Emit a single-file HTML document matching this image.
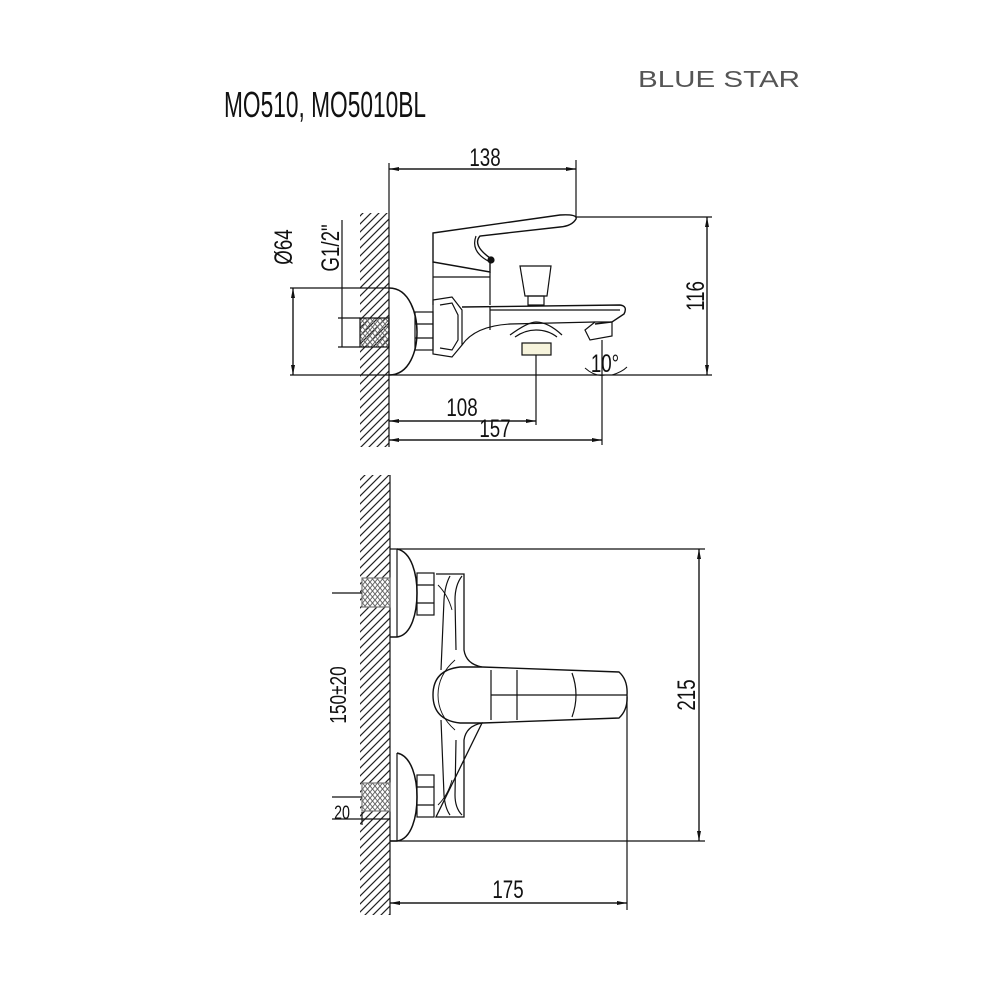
<!DOCTYPE html>
<html><head><meta charset="utf-8"><style>
html,body{margin:0;padding:0;background:#fff;}
svg{display:block;}
text{font-family:"Liberation Sans",sans-serif;fill:#111;}
</style></head><body>
<svg width="1000" height="1000" viewBox="0 0 1000 1000" xmlns="http://www.w3.org/2000/svg">
<defs>
<pattern id="h" patternUnits="userSpaceOnUse" width="8" height="8">
<path d="M-1,9 L9,-1 M-3,3 L3,-3 M5,11 L11,5" stroke="#222" stroke-width="1.2"/>
</pattern>
<pattern id="t" patternUnits="userSpaceOnUse" width="5" height="6">
<path d="M0,0 L5,6 M5,0 L0,6" stroke="#666" stroke-width="1"/>
</pattern>
<marker id="a" markerWidth="10" markerHeight="6" refX="10" refY="3" orient="auto" markerUnits="userSpaceOnUse">
<path d="M0,1 L10,3 L0,5z" fill="#111"/></marker>
</defs>
<rect width="1000" height="1000" fill="#fff"/>
<text x="224" y="117" font-size="36" textLength="202" lengthAdjust="spacingAndGlyphs">MO510, MO5010BL</text>
<text x="638" y="87" font-size="23" textLength="162" lengthAdjust="spacingAndGlyphs" style="fill:#555">BLUE STAR</text>

<g fill="none" stroke="#111" stroke-width="1.2">
<rect x="360" y="213" width="29" height="234" fill="url(#h)" stroke="none"/>
<line x1="389" y1="163" x2="389" y2="447"/>
<line x1="389" y1="169" x2="576" y2="169" marker-end="url(#a)"/>
<line x1="576" y1="169" x2="389" y2="169" marker-end="url(#a)"/>
<line x1="576" y1="160" x2="576" y2="217"/>
<line x1="576" y1="217" x2="712" y2="217"/>
<line x1="290" y1="375" x2="712" y2="375"/>
<line x1="707" y1="217" x2="707" y2="375" marker-end="url(#a)"/>
<line x1="707" y1="375" x2="707" y2="217" marker-end="url(#a)"/>
<line x1="290" y1="288" x2="389" y2="288"/>
<line x1="293" y1="288" x2="293" y2="375" marker-end="url(#a)"/>
<line x1="293" y1="375" x2="293" y2="288" marker-end="url(#a)"/>
<line x1="342" y1="220" x2="342" y2="347"/>
<line x1="338" y1="318" x2="360" y2="318"/>
<line x1="338" y1="347" x2="360" y2="347"/>
<rect x="360" y="318" width="29" height="29" fill="url(#t)"/>
<path d="M389,288 C410,288 417,315 417,332 C417,350 410,375 389,375" stroke-width="1.5"/>
<rect x="415" y="312" width="18" height="38"/>
<line x1="415" y1="324" x2="433" y2="324"/><line x1="415" y1="338" x2="433" y2="338"/>
<path d="M433,300 L452,297 L462,310 L462,345 L452,357 L433,354 Z"/>
<path d="M440,305 L452,303 L458,315 L458,340 L452,350 L440,348"/>
<path d="M433,233 L560,215 Q578,214 576,219 Q572,226 560,227 L480,236 Q472,245 490,258 L490,272 L433,262 Z" stroke-width="1.4"/>
<path d="M476,236 Q470,252 490,262"/>
<circle cx="491" cy="260" r="3" fill="#111"/>
<path d="M433,262 L433,305 M490,272 L490,305 M433,277 L490,277"/>
<path d="M462,307 L620,305 Q628,306 624,314 L612,322 L595,324" stroke-width="1.4"/>
<line x1="490" y1="310" x2="620" y2="310"/>
<path d="M462,345 Q475,326 510,324 L595,322"/>
<line x1="490" y1="307" x2="490" y2="330"/>
<path d="M520,266 L551,266 L547,296 L525,296 Z"/>
<rect x="528" y="296" width="16" height="9"/>
<path d="M510,335 Q528,322 536,322 Q548,322 562,335"/>
<path d="M515,337 Q525,330 536,330 Q548,330 557,337"/>
<rect x="522" y="343" width="29" height="12" fill="#f7f4dc"/>
<path d="M585,330 L595,322 L612,322 L612,336 L590,340 Z"/>
<line x1="536" y1="355" x2="536" y2="425"/>
<line x1="602" y1="340" x2="602" y2="445"/>
<line x1="389" y1="421" x2="536" y2="421" marker-end="url(#a)"/>
<line x1="536" y1="421" x2="389" y2="421" marker-end="url(#a)"/>
<line x1="389" y1="440" x2="602" y2="440" marker-end="url(#a)"/>
<line x1="602" y1="440" x2="389" y2="440" marker-end="url(#a)"/>
<path d="M585,368 Q595,377 605,375 M612,375 Q622,372 627,367" stroke-width="1"/>

<rect x="360" y="475" width="30" height="440" fill="url(#h)" stroke="none"/>
<line x1="390" y1="475" x2="390" y2="915"/>
<line x1="390" y1="549" x2="705" y2="549"/>
<line x1="390" y1="841" x2="705" y2="841"/>
<line x1="699" y1="549" x2="699" y2="841" marker-end="url(#a)"/>
<line x1="699" y1="841" x2="699" y2="549" marker-end="url(#a)"/>
<path d="M397,549 C412,552 417,575 417,593 C417,612 412,635 397,637 L390,637" stroke-width="1.5"/>
<line x1="397" y1="549" x2="397" y2="637"/>
<path d="M397,753 C412,756 417,779 417,797 C417,816 412,839 397,841 L390,841" stroke-width="1.5"/>
<line x1="397" y1="753" x2="397" y2="841"/>
<rect x="362" y="578" width="28" height="29" fill="#fff" stroke="none"/>
<rect x="362" y="783" width="28" height="28" fill="#fff" stroke="none"/>
<rect x="362" y="578" width="28" height="29" fill="url(#t)" stroke="#777"/>
<rect x="362" y="783" width="28" height="28" fill="url(#t)" stroke="#777"/>
<line x1="332" y1="593" x2="362" y2="593"/>
<line x1="332" y1="797" x2="362" y2="797"/>
<line x1="332" y1="819" x2="390" y2="819"/>
<line x1="362" y1="812" x2="362" y2="825"/>
<rect x="417" y="573" width="17" height="42"/><line x1="417" y1="585" x2="434" y2="585"/><line x1="417" y1="603" x2="434" y2="603"/>
<rect x="417" y="775" width="17" height="42"/><line x1="417" y1="787" x2="434" y2="787"/><line x1="417" y1="805" x2="434" y2="805"/>
<path d="M436,574 L464,574 L464,650 Q466,664 482,667 M482,723 Q466,726 464,740 L464,817 L436,817 Z" stroke-width="1.3"/>
<path d="M450,576 Q445,585 444,600 L441,670 M441,720 L444,795 Q445,808 450,815"/>
<path d="M462,576 Q455,585 455,600 L456,650 M456,740 L455,795 Q455,808 462,815"/>
<path d="M438,585 Q448,595 452,610 M438,805 Q448,795 452,780" stroke-width="0.9"/>
<path d="M482,667 L619,672 Q628,680 627,695 Q628,710 619,718 L482,723 L460,723 Q433,720 433,695 Q433,670 460,667 Z" stroke-width="1.4"/>
<line x1="491" y1="670" x2="491" y2="720"/>
<line x1="517" y1="670" x2="517" y2="720"/>
<line x1="491" y1="695" x2="627" y2="695"/>
<path d="M572,673 Q580,695 572,717"/>
<path d="M455,660 Q438,675 438,695 Q438,715 455,730" stroke-width="0.9"/>
<line x1="627" y1="697" x2="627" y2="910"/>
<line x1="390" y1="903" x2="627" y2="903" marker-end="url(#a)"/>
<line x1="627" y1="903" x2="390" y2="903" marker-end="url(#a)"/>
</g>

<g font-size="25">
<text x="485" y="166" text-anchor="middle" transform="translate(485,0) scale(0.75,1) translate(-485,0)">138</text>
<text x="462" y="416" text-anchor="middle" transform="translate(462,0) scale(0.75,1) translate(-462,0)">108</text>
<text x="495" y="437" text-anchor="middle" transform="translate(495,0) scale(0.75,1) translate(-495,0)">157</text>
<text x="605" y="372" text-anchor="middle" transform="translate(605,0) scale(0.75,1) translate(-605,0)">10°</text>
<text x="508" y="898" text-anchor="middle" transform="translate(508,0) scale(0.75,1) translate(-508,0)">175</text>
<text transform="translate(704,296) rotate(-90) scale(0.75,1)" text-anchor="middle">116</text>
<text transform="translate(292,247) rotate(-90) scale(0.75,1)" text-anchor="middle">Ø64</text>
<text transform="translate(339,248) rotate(-90) scale(0.75,1)" text-anchor="middle">G1/2"</text>
<text transform="translate(695,695) rotate(-90) scale(0.75,1)" text-anchor="middle">215</text>
<text transform="translate(346,695) rotate(-90) scale(0.75,1)" text-anchor="middle" font-size="23">150±20</text>
<text x="342" y="819" text-anchor="middle" font-size="19" transform="translate(342,0) scale(0.75,1) translate(-342,0)">20</text>
</g>
</svg>
</body></html>
